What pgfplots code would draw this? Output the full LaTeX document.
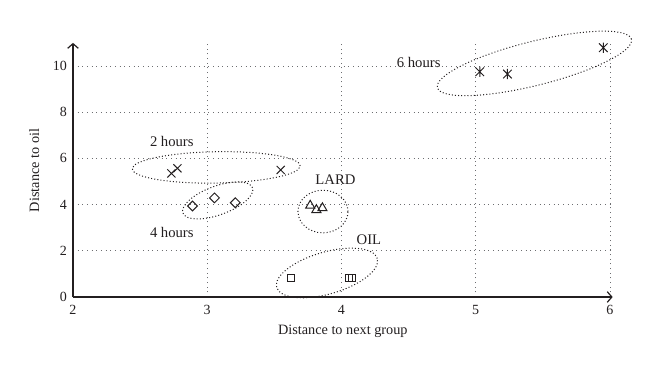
\documentclass[border=0pt]{standalone}
\usepackage{fontspec}
\setmainfont{Liberation Serif}
\usepackage{pgfplots}
\pgfplotsset{compat=1.18}
\usetikzlibrary{arrows.meta,shapes.geometric}
\definecolor{ink}{HTML}{231F20}
\definecolor{gridc}{HTML}{6D6E71}
\pgfdeclareplotmark{xbar}{%
  \pgfpathmoveto{\pgfqpoint{-\pgfplotmarksize}{-\pgfplotmarksize}}%
  \pgfpathlineto{\pgfqpoint{\pgfplotmarksize}{\pgfplotmarksize}}%
  \pgfpathmoveto{\pgfqpoint{-\pgfplotmarksize}{\pgfplotmarksize}}%
  \pgfpathlineto{\pgfqpoint{\pgfplotmarksize}{-\pgfplotmarksize}}%
  \pgfpathmoveto{\pgfqpoint{0pt}{-1.2\pgfplotmarksize}}%
  \pgfpathlineto{\pgfqpoint{0pt}{1.2\pgfplotmarksize}}%
  \pgfusepathqstroke}
\tikzset{ell/.style={draw=ink, ellipse, inner sep=0pt, line width=0.75pt,
  dash pattern=on 0.75pt off 1.6pt},
  lab/.style={ink, font=\fontsize{11}{13}\selectfont}}
\begin{document}
\begin{tikzpicture}
\useasboundingbox (-54.75pt,-56.25pt) rectangle (440.25pt,222.75pt);
\begin{axis}[
  at={(0,0)}, anchor=south west, scale only axis,
  width=404.75pt, height=190.6pt,
  xmin=2, xmax=6.02, ymin=0, ymax=11,
  xtick={2,3,4,5,6}, ytick={0,2,4,6,8,10},
  axis lines=left,
  axis line style={ink, line width=0.9pt, -{Straight Barb[length=3.5pt,width=8pt]}},
  major tick length=0pt,
  grid=major,
  major grid style={gridc, line width=0.7pt, dash pattern=on 0.7pt off 2.8pt},
  clip=false,
  font=\fontsize{10.7}{12.5}\selectfont,
  /pgf/number format/assume math mode=true,
  ticklabel style={ink, font=\fontsize{10.5}{12}\selectfont},
  xticklabel style={yshift=-2.5pt},
  yticklabel style={xshift=-1pt},
  xlabel={Distance to next group},
  ylabel={Distance to oil},
  xlabel style={at={(axis description cs:0.5,0)}, anchor=center, yshift=-26pt, ink},
  ylabel style={at={(axis description cs:0,0.498)}, anchor=center, yshift=29pt, ink},
]
% 2 hours
\addplot[only marks, mark=x, mark size=4.3pt, ink, line width=0.75pt]
  coordinates {(2.733,5.35) (2.778,5.57) (3.547,5.50)};
% 4 hours
\addplot[only marks, mark=square, mark size=2.6pt, mark options={rotate=45}, ink, line width=0.75pt]
  coordinates {(2.89,3.94) (3.054,4.29) (3.209,4.08)};
% LARD
\addplot[only marks, mark=triangle, mark size=3.9pt, ink, line width=0.75pt]
  coordinates {(3.767,3.96) (3.858,3.85) (3.813,3.77)};
% OIL
\addplot[only marks, mark=square, mark size=2.6pt, ink, line width=0.75pt]
  coordinates {(3.624,0.84) (4.054,0.81) (4.08,0.81)};
% 6 hours
\addplot[only marks, mark=xbar, mark size=3.2pt, ink, line width=0.75pt]
  coordinates {(5.03,9.75) (5.236,9.65) (5.95,10.79)};
% ellipses
\node[ell, rotate=1, minimum width=126pt, minimum height=23.5pt] at (axis cs:3.067,5.61) {};
\node[ell, rotate=20, minimum width=55.5pt, minimum height=21.6pt] at (axis cs:3.078,4.18) {};
\node[ell, rotate=0, minimum width=37.5pt, minimum height=32pt] at (axis cs:3.862,3.70) {};
\node[ell, rotate=16, minimum width=78.5pt, minimum height=31.5pt] at (axis cs:3.892,1.04) {};
\node[ell, rotate=14, minimum width=150pt, minimum height=33pt] at (axis cs:5.437,10.11) {};
% labels
\node[lab] at (axis cs:2.736,6.74) {2 hours};
\node[lab] at (axis cs:2.736,2.78) {4 hours};
\node[lab] at (axis cs:3.955,5.09) {LARD};
\node[lab] at (axis cs:4.204,2.47) {OIL};
\node[lab] at (axis cs:4.575,10.13) {6 hours};
\end{axis}
\end{tikzpicture}
\end{document}
